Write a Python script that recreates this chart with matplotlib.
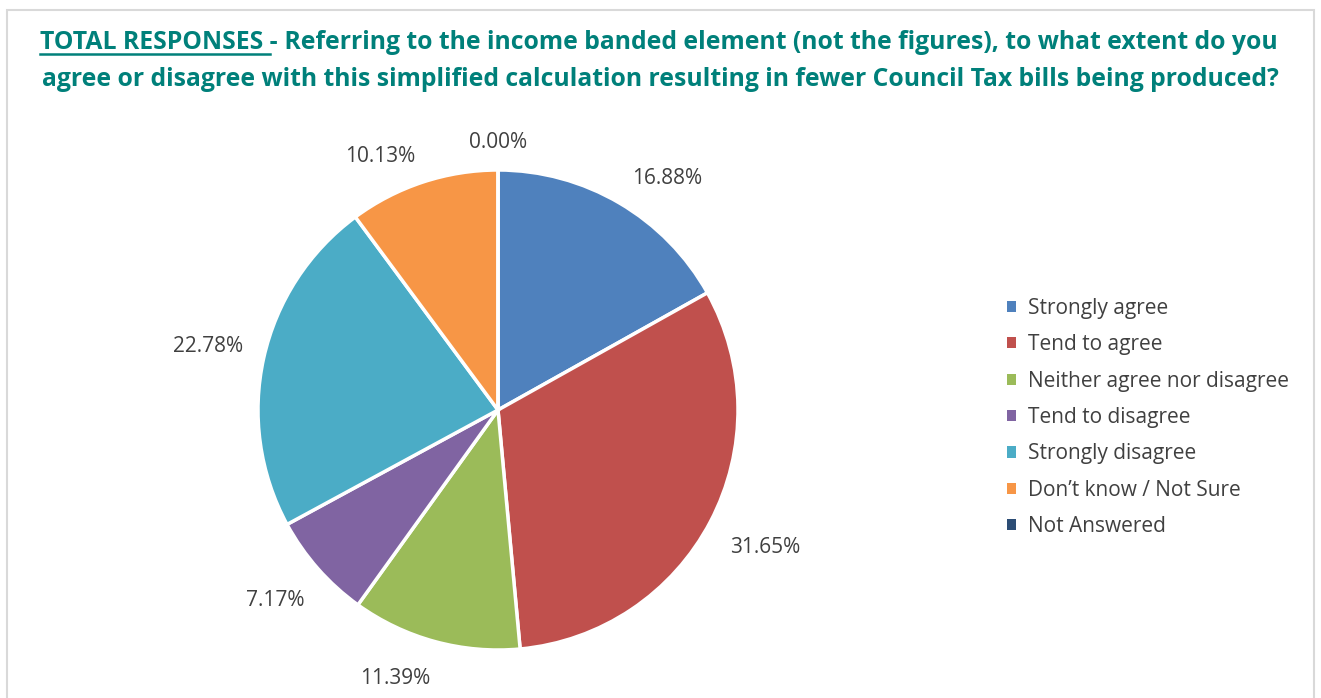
import matplotlib
matplotlib.use("Agg")
import matplotlib.pyplot as plt
from matplotlib.patches import Rectangle
from matplotlib.lines import Line2D
import numpy as np

categories = ["Strongly agree", "Tend to agree", "Neither agree nor disagree",
              "Tend to disagree", "Strongly disagree", "Don\u2019t know / Not Sure",
              "Not Answered"]
values = [16.88, 31.65, 11.39, 7.17, 22.78, 10.13, 0.00]
colors = ["#4F81BD", "#C0504D", "#9BBB59", "#8064A2", "#4BACC6", "#F79646", "#2C4D75"]

title_prefix = "TOTAL RESPONSES -"
title_rest1 = " Referring to the income banded element (not the figures), to what extent do you"
title_line2 = "agree or disagree with this simplified calculation resulting in fewer Council Tax bills being produced?"

W, H = 1321, 698
fig = plt.figure(figsize=(W / 100, H / 100), dpi=100)
fig.patch.set_facecolor("white")

# border
fig.patches.append(Rectangle((7 / W, -0.02), (1314 - 7) / W, (H - 10) / H + 0.02,
                             transform=fig.transFigure, fill=False,
                             edgecolor="#D9D9D9", linewidth=1.5))

# pie axes: center (498,410) px, radius 240 px
lim = 1.3
size = 2 * 240 * lim
cx, cy = 498, H - 410
ax = fig.add_axes([(cx - size / 2) / W, (cy - size / 2) / H, size / W, size / H])
wedges, texts = ax.pie(values, colors=colors, startangle=90, counterclock=False,
                       wedgeprops=dict(edgecolor="white", linewidth=2.5))
ax.set_xlim(-lim, lim)
ax.set_ylim(-lim, lim)
ax.set_aspect("equal")
ax.axis("off")

# data-label placement (radial distance, angular shift in degrees), Excel best-fit style
label_dist = [1.196, 1.252, 1.2, 1.223, 1.237, 1.167, 1.113]
label_shift = [-5.7, 0.4, -5.8, -0.8, 0.2, 6.7, 0.0]
cum = np.cumsum([0] + values[:-1])
for v, c, d, s in zip(values, cum, label_dist, label_shift):
    ang = np.deg2rad(90 - (c + v / 2) * 3.6 + s)
    ax.text(d * np.cos(ang), d * np.sin(ang), f"{v:.2f}%", ha="center", va="center",
            fontsize=15, color="#404040", family="Open Sans")

# legend
handles = [Rectangle((0, 0), 1, 1, facecolor=col, edgecolor="none") for col in colors]
leg = fig.legend(handles, categories, loc="upper left",
                 bbox_to_anchor=(988 / W, 1 - 279 / H), frameon=False,
                 handlelength=0.45, handleheight=0.45, handletextpad=0.55,
                 labelspacing=0.74, prop=dict(family="Open Sans", size=15))
for t in leg.get_texts():
    t.set_color("#404040")

# title
teal = "#00807A"
tfont = dict(family="Open Sans", weight="bold", size=17.8, color=teal)
r = fig.canvas.get_renderer()
t1 = fig.text(0, 0, title_prefix, va="baseline", ha="left", **tfont)
t2 = fig.text(0, 0, title_rest1, va="baseline", ha="left", **tfont)
w1 = t1.get_window_extent(r).width
w2 = t2.get_window_extent(r).width
x0 = 659 - (w1 + w2) / 2
base1 = H - 49
t1.set_position((x0 / W, base1 / H))
t2.set_position(((x0 + w1) / W, base1 / H))
# underline under "TOTAL RESPONSES "
tu = fig.text(0, 0, "TOTAL RESPONSES ", **tfont)
wu = tu.get_window_extent(r).width
tu.remove()
fig.add_artist(Line2D([x0 / W, (x0 + wu) / W], [(base1 - 5) / H, (base1 - 5) / H],
                      transform=fig.transFigure, color=teal, linewidth=1.8))
fig.text(660 / W, (H - 86) / H, title_line2, ha="center", va="baseline", **tfont)

fig.savefig("out.png", dpi=100, facecolor="white")
